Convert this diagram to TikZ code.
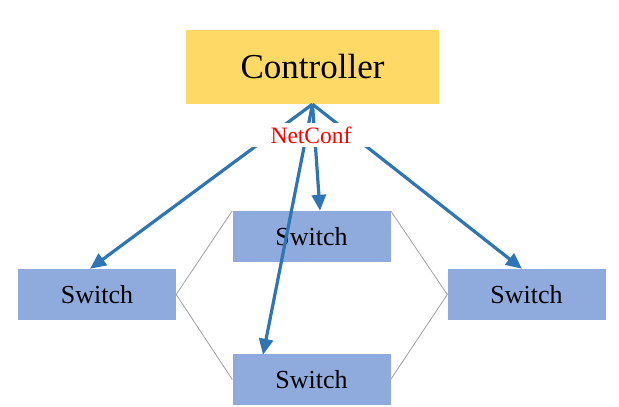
\documentclass[tikz,border=0pt]{standalone}
\usepackage{fontspec}
\setmainfont{Liberation Serif}
\usetikzlibrary{arrows.meta}
\definecolor{ctlfill}{HTML}{FFD966}
\definecolor{swfill}{HTML}{8FAADC}
\definecolor{arrowblue}{HTML}{2E75B6}
\definecolor{linkgray}{HTML}{A0A0A0}
\tikzset{
  ctlbox/.style={fill=ctlfill, draw=none, minimum width=253pt, minimum height=74pt, inner sep=0pt, font=\fontsize{35}{40}\selectfont},
  swbox/.style={fill=swfill, draw=none, minimum width=158pt, minimum height=51pt, inner sep=0pt, font=\fontsize{26}{30}\selectfont},
  link/.style={draw=linkgray, line width=0.8pt},
  ctlarrow/.style={draw=arrowblue, line width=3.2pt, -{Triangle[length=16pt,width=14pt]}},
  lbl/.style={fill=white, text=red, minimum width=120pt, minimum height=24pt, inner sep=0pt, font=\fontsize{23.5}{27}\selectfont}
}
\begin{document}
\begin{tikzpicture}[x=1pt,y=-1pt]
\useasboundingbox (0,0) rectangle (619,407);
\node[ctlbox] (ctl) at (312.5,67) {Controller};
\node[swbox] (sl) at (97,294.5) {Switch};
\node[swbox] (sm) at (311.5,236.5) {Switch};
\node[swbox] (sb) at (311.5,379.5) {Switch};
\node[swbox] (sr) at (526.5,294.5) {Switch};
\draw[link] (sm.north west) -- (sl.east) -- (sb.west);
\draw[link] (sm.north east) -- (sr.west) -- (sb.east);
\draw[ctlarrow] (ctl.south) -- ([xshift=-7pt]sl.north);
\draw[ctlarrow] (ctl.south) -- ([xshift=-4.5pt]sr.north);
\draw[ctlarrow] (ctl.south) -- ([xshift=8.5pt]sm.north);
\draw[ctlarrow] (ctl.south) -- ([xshift=-48.5pt,yshift=-1pt]sb.north);
\node[lbl] (nc) at (311,135) {NetConf};
\end{tikzpicture}
\end{document}
